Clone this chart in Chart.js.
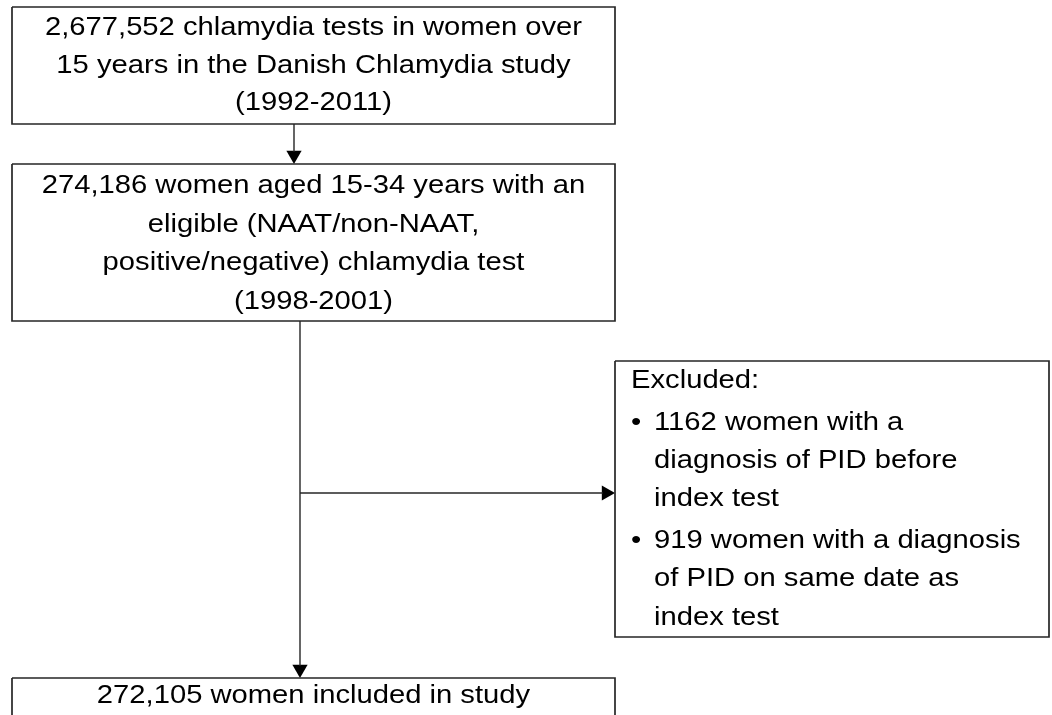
<!DOCTYPE html>
<html>
<head>
<meta charset="utf-8">
<script src="https://cdn.jsdelivr.net/npm/chart.js@4"></script>
<style>
  html, body { margin: 0; padding: 0; background: #fff; }
  #wrap { width: 1052px; height: 715px; position: relative; }
</style>
</head>
<body>
<div id="wrap"><canvas id="flowChart"></canvas></div>
<script>

// box contents
const step1Lines = ['2,677,552 chlamydia tests in women over', '15 years in the Danish Chlamydia study', '(1992-2011)'];
const step2Lines = ['274,186 women aged 15-34 years with an', 'eligible (NAAT/non-NAAT,', 'positive/negative) chlamydia test', '(1998-2001)'];
const finalLines = ['272,105 women included in study'];
const excludedTitle = 'Excluded:';
const excludedItems = [
  ['1162 women with a', 'diagnosis of PID before', 'index test'],
  ['919 women with a diagnosis', 'of PID on same date as', 'index test']
];

// layout in diagram units (same as pixels of the 1052x715 page)
const layout = {
  step1: { x0: 12, x1: 615, y0: 7, y1: 124, base: 35, lh: 37.5 },
  step2: { x0: 12, x1: 615, y0: 164, y1: 321, base: 193, lh: 38.7 },
  excl: { x0: 615, x1: 1049, y0: 361, y1: 637, base: 388, lh: 38.3, gap: 3.4, textX: 631, bulletTextX: 654 },
  final: { x0: 12, x1: 615, y0: 678, y1: 780, base: 703, lh: 38 },
  arrow1X: 294,
  trunkX: 300,
  branchY: 493,
  head: 8.8
};

const fontSize = 26.3;
const stretchX = 1.11;
const lineColor = '#262626';

function boxPath(b) {
  return [
    { x: b.x0, y: b.y0 }, { x: b.x1, y: b.y0 },
    { x: b.x1, y: b.y1 }, { x: b.x0, y: b.y1 }, { x: b.x0, y: b.y0 }
  ];
}

function lineSet(points, width) {
  return {
    type: 'scatter',
    data: points,
    showLine: true,
    borderColor: lineColor,
    borderWidth: width,
    pointRadius: 0,
    tension: 0,
    fill: false
  };
}

const L = layout;
const headLen = L.head * 1.5;

const datasets = [
  lineSet(boxPath(L.step1), 1.7),
  lineSet(boxPath(L.step2), 1.7),
  lineSet(boxPath(L.excl), 1.7),
  lineSet(boxPath(L.final), 1.7),
  lineSet([{ x: L.arrow1X, y: L.step1.y1 }, { x: L.arrow1X, y: L.step2.y0 - headLen + 1 }], 1.4),
  lineSet([{ x: L.trunkX, y: L.step2.y1 }, { x: L.trunkX, y: L.final.y0 - headLen + 1 }], 1.4),
  lineSet([{ x: L.trunkX, y: L.branchY }, { x: L.excl.x0 - headLen + 1, y: L.branchY }], 1.4),
  {
    type: 'scatter',
    data: [{ x: L.arrow1X, y: L.step2.y0 - L.head }, { x: L.trunkX, y: L.final.y0 - L.head }],
    pointStyle: 'triangle',
    rotation: 180,
    pointRadius: L.head,
    backgroundColor: '#000',
    borderColor: '#000',
    borderWidth: 0
  },
  {
    type: 'scatter',
    data: [{ x: L.excl.x0 - L.head, y: L.branchY }],
    pointStyle: 'triangle',
    rotation: 90,
    pointRadius: L.head,
    backgroundColor: '#000',
    borderColor: '#000',
    borderWidth: 0
  }
];

function drawText(ctx, text, px, py, align) {
  ctx.save();
  ctx.translate(px, py);
  ctx.scale(stretchX, 1);
  ctx.textAlign = align;
  ctx.fillText(text, 0, 0);
  ctx.restore();
}

const textPlugin = {
  id: 'boxText',
  afterDatasetsDraw(chart) {
    const ctx = chart.ctx;
    const xs = chart.scales.x;
    const ys = chart.scales.y;
    ctx.save();
    ctx.font = fontSize + 'px "Liberation Sans", Arial, Helvetica, sans-serif';
    ctx.fillStyle = '#000';
    ctx.textBaseline = 'alphabetic';

    const centred = [[L.step1, step1Lines], [L.step2, step2Lines], [L.final, finalLines]];
    centred.forEach(([b, lines]) => {
      const cx = xs.getPixelForValue((b.x0 + b.x1) / 2);
      lines.forEach((t, i) => {
        drawText(ctx, t, cx, ys.getPixelForValue(b.base + i * b.lh), 'center');
      });
    });

    const e = L.excl;
    let y = e.base;
    drawText(ctx, excludedTitle, xs.getPixelForValue(e.textX), ys.getPixelForValue(y), 'left');
    excludedItems.forEach(item => {
      y += e.gap;
      item.forEach((t, i) => {
        y += e.lh;
        if (i === 0) {
          drawText(ctx, '\u2022', xs.getPixelForValue(e.textX), ys.getPixelForValue(y), 'left');
        }
        drawText(ctx, t, xs.getPixelForValue(e.bulletTextX), ys.getPixelForValue(y), 'left');
      });
    });
    ctx.restore();
  }
};

const ctx = document.getElementById('flowChart').getContext('2d');
const chart = new Chart(ctx, {
  type: 'scatter',
  data: { datasets: datasets },
  options: {
    responsive: true,
    maintainAspectRatio: false,
    animation: false,
    events: [],
    layout: { padding: 0, autoPadding: false },
    plugins: { legend: { display: false }, tooltip: { enabled: false } },
    scales: {
      x: { type: 'linear', min: 0, max: 1052, display: false },
      y: { type: 'linear', min: 0, max: 715, reverse: true, display: false }
    }
  },
  plugins: [textPlugin]
});
</script>
</body>
</html>
